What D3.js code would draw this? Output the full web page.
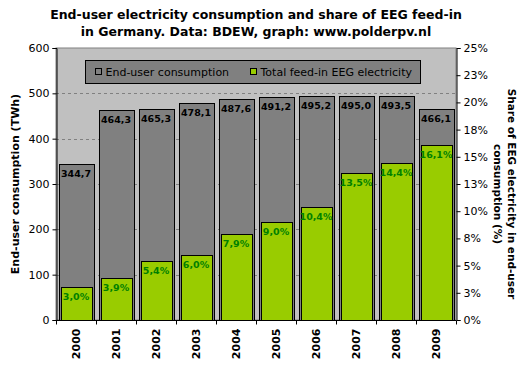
<!DOCTYPE html>
<html>
<head>
<meta charset="utf-8">
<script src="https://cdn.jsdelivr.net/npm/d3@7"></script>
<style>
  body { margin: 0; background: #fff; }
  svg { display: block; font-family: Verdana, 'DejaVu Sans', sans-serif; }
</style>
</head>
<body>
<svg id="chart" width="531" height="371"></svg>
<script>
const years = ['2000', '2001', '2002', '2003', '2004', '2005', '2006', '2007', '2008', '2009']
const consumption = [344.7, 464.3, 465.3, 478.1, 487.6, 491.2, 495.2, 495.0, 493.5, 466.1]
const eegShare = [3.0, 3.9, 5.4, 6.0, 7.9, 9.0, 10.4, 13.5, 14.4, 16.1]
const leftTicks = [0, 100, 200, 300, 400, 500, 600]
const rightTicks = [0, 2.5, 5, 7.5, 10, 12.5, 15, 17.5, 20, 22.5, 25]

const svg = d3.select('#chart')
const plotLeft = 56
const plotRight = 456
const plotTop = 48
const plotBottom = 320

const x = d3.scaleBand().domain(years).range([plotLeft, plotRight]).paddingInner(0.125).paddingOuter(0.0625)
const y = d3.scaleLinear().domain([0, 600]).range([plotBottom, plotTop])
const y2 = d3.scaleLinear().domain([0, 25]).range([plotBottom, plotTop])
const comma = v => d3.format('.1f')(v).replace('.', ',')

// plot background
svg.append('rect')
  .attr('x', plotLeft).attr('y', plotTop)
  .attr('width', plotRight - plotLeft).attr('height', plotBottom - plotTop)
  .attr('fill', '#c0c0c0')
  .attr('stroke', '#808080')

// grid lines
svg.append('g')
  .selectAll('line')
  .data(leftTicks.filter(d => d > 0 && d < 600))
  .join('line')
  .attr('x1', plotLeft).attr('x2', plotRight)
  .attr('y1', d => Math.round(y(d)) + 0.5).attr('y2', d => Math.round(y(d)) + 0.5)
  .attr('stroke', '#808080')
  .attr('stroke-dasharray', '3,3')

// consumption bars
svg.append('g')
  .selectAll('rect')
  .data(consumption)
  .join('rect')
  .attr('x', (d, i) => Math.round(x(years[i])) + 0.5)
  .attr('y', d => Math.round(y(d)) + 0.5)
  .attr('width', Math.round(x.bandwidth()))
  .attr('height', d => Math.round(plotBottom - y(d)))
  .attr('fill', '#808080')
  .attr('stroke', '#000')

// EEG share bars
const inset = 2
svg.append('g')
  .selectAll('rect')
  .data(eegShare)
  .join('rect')
  .attr('x', (d, i) => Math.round(x(years[i])) + inset + 0.5)
  .attr('y', d => Math.round(y2(d)) + 0.5)
  .attr('width', Math.round(x.bandwidth()) - inset * 2)
  .attr('height', d => Math.round(plotBottom - y2(d)))
  .attr('fill', '#99cc00')
  .attr('stroke', '#000')

// value labels
svg.append('g')
  .selectAll('text')
  .data(consumption)
  .join('text')
  .attr('x', (d, i) => x(years[i]) + x.bandwidth() / 2)
  .attr('y', d => y(d) + 13)
  .attr('text-anchor', 'middle')
  .attr('font-size', 9.5)
  .attr('font-weight', 'bold')
  .attr('fill', '#000')
  .text(d => comma(d))

svg.append('g')
  .selectAll('text')
  .data(eegShare)
  .join('text')
  .attr('x', (d, i) => x(years[i]) + x.bandwidth() / 2)
  .attr('y', d => y2(d) + 13)
  .attr('text-anchor', 'middle')
  .attr('font-size', 9.5)
  .attr('font-weight', 'bold')
  .attr('fill', '#008000')
  .text(d => comma(d) + '%')

// axes
const axisLeft = d3.axisLeft(y).tickValues(leftTicks).tickSize(4).tickPadding(3)
svg.append('g')
  .attr('transform', `translate(${plotLeft + 0.5},0)`)
  .call(axisLeft)
  .call(g => g.selectAll('text').attr('font-size', 11).attr('font-family', 'Verdana, DejaVu Sans, sans-serif').attr('fill', '#000'))

const axisRight = d3.axisRight(y2).tickValues(rightTicks).tickSize(4).tickPadding(3)
  .tickFormat(d => Math.round(d) + '%')
svg.append('g')
  .attr('transform', `translate(${plotRight + 0.5},0)`)
  .call(axisRight)
  .call(g => g.selectAll('text').attr('font-size', 11).attr('font-family', 'Verdana, DejaVu Sans, sans-serif').attr('fill', '#000'))

// x axis with ticks at category boundaries
const xAxis = svg.append('g').attr('transform', `translate(0,${plotBottom + 0.5})`)
xAxis.append('line').attr('x1', plotLeft).attr('x2', plotRight).attr('stroke', '#000')
xAxis.selectAll('.tick')
  .data(d3.range(years.length + 1))
  .join('line')
  .attr('x1', i => Math.round(plotLeft + i * (plotRight - plotLeft) / years.length) + 0.5)
  .attr('x2', i => Math.round(plotLeft + i * (plotRight - plotLeft) / years.length) + 0.5)
  .attr('y1', 0).attr('y2', 4)
  .attr('stroke', '#000')
xAxis.selectAll('text')
  .data(years)
  .join('text')
  .attr('transform', d => `translate(${x(d) + x.bandwidth() / 2 + 4},8) rotate(-90)`)
  .attr('text-anchor', 'end')
  .attr('font-size', 11)
  .attr('font-weight', 'bold')
  .text(d => d)

// axis titles
svg.append('text')
  .attr('transform', `translate(19,${(plotTop + plotBottom) / 2}) rotate(-90)`)
  .attr('text-anchor', 'middle')
  .attr('font-size', 11)
  .attr('font-weight', 'bold')
  .text('End-user consumption (TWh)')

const rightTitle = svg.append('text')
  .attr('transform', `translate(508,194) rotate(90)`)
  .attr('text-anchor', 'middle')
  .attr('font-size', 10.5)
  .attr('font-weight', 'bold')
rightTitle.append('tspan').attr('x', 0).attr('dy', 0).text('Share of EEG electricity in end-user')
rightTitle.append('tspan').attr('x', 0).attr('dy', 14).text('consumption (%)')

// title
const title = svg.append('text')
  .attr('x', 256)
  .attr('text-anchor', 'middle')
  .attr('font-size', 12.5)
  .attr('font-weight', 'bold')
title.append('tspan').attr('x', 256).attr('y', 19).text('End-user electricity consumption and share of EEG feed-in')
title.append('tspan').attr('x', 256).attr('y', 36).text('in Germany. Data: BDEW, graph: www.polderpv.nl')

// legend
const legend = svg.append('g').attr('transform', 'translate(85.5,60.5)')
legend.append('rect')
  .attr('width', 335).attr('height', 23)
  .attr('fill', '#808080').attr('stroke', '#000')
const legendItems = [
  { label: 'End-user consumption', color: '#808080', dx: 10 },
  { label: 'Total feed-in EEG electricity', color: '#99cc00', dx: 165 }
]
const item = legend.selectAll('.item')
  .data(legendItems)
  .join('g')
  .attr('transform', d => `translate(${d.dx},8)`)
item.append('rect')
  .attr('width', 6).attr('height', 6)
  .attr('fill', d => d.color).attr('stroke', '#000')
item.append('text')
  .attr('x', 10).attr('y', 7.5)
  .attr('font-size', 11)
  .text(d => d.label)
</script>
</body>
</html>
